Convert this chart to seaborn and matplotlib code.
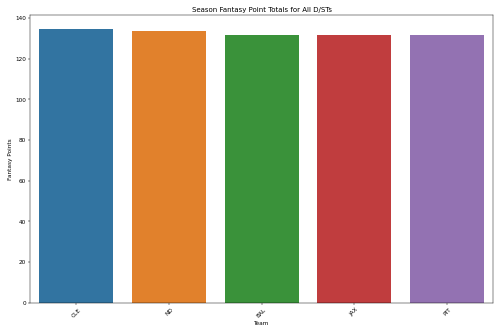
import matplotlib
matplotlib.use("Agg")
import matplotlib.pyplot as plt
import seaborn as sns
import pandas as pd

teams = ["CLE", "ND", "BAL", "JAX", "PIT"]
points = [134.7, 133.4, 131.8, 131.4, 131.4]

df = pd.DataFrame({"Team": teams, "Fantasy Points": points})

DPI = 500 / 12
fig, ax = plt.subplots(figsize=(12, 8), dpi=DPI)
sns.barplot(data=df, x="Team", y="Fantasy Points", hue="Team", legend=False, ax=ax)
ax.set_title("Season Fantasy Point Totals for All D/STs")
ax.set_xlabel("Team")
ax.set_ylabel("Fantasy Points")
plt.xticks(rotation=45)
fig.subplots_adjust(left=0.06, right=0.9866, top=0.954, bottom=0.091)
fig.savefig("out.png", dpi=DPI)
